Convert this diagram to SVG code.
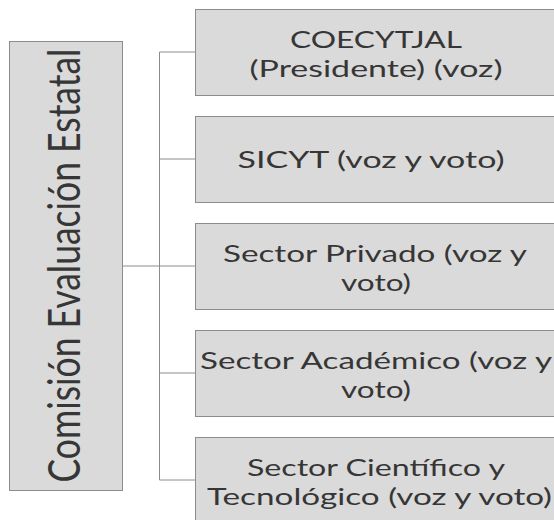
<svg xmlns="http://www.w3.org/2000/svg" width="554" height="520" viewBox="0 0 554 520">
<style>
.box{fill:#dadada;stroke:#8c8c8c;stroke-width:1}
.t{font-family:Lato,"Open Sans",sans-serif;font-size:24px;fill:#363636;text-anchor:middle}
.big{font-family:Lato,"Open Sans",sans-serif;font-size:35.5px;fill:#363636;text-anchor:middle}
.c{stroke:#8c8c8c;stroke-width:1;fill:none}
</style>
<rect width="554" height="520" fill="#fff"/>
<g id="connectors">
<path class="c" d="M159.5 52V480M159.5 52H195M159.5 159H195M123 266H195M159.5 373H195M159.5 480H195"/>
</g>
<g id="comision">
<rect class="box" x="9.5" y="41.5" width="113" height="449"/>
<text class="big" transform="translate(80 265.5) rotate(-90) scale(1 1.24)">Comisión Evaluación Estatal</text>
</g>
<g id="coecytjal">
<rect class="box" x="195.5" y="9.5" width="362" height="86"/>
<text class="t" x="376" y="48" textLength="172" lengthAdjust="spacingAndGlyphs">COECYTJAL</text>
<text class="t" x="376" y="77" textLength="253" lengthAdjust="spacingAndGlyphs">(Presidente) (voz)</text>
</g>
<g id="sicyt">
<rect class="box" x="195.5" y="116.5" width="362" height="86"/>
<text class="t" x="371" y="168" textLength="267" lengthAdjust="spacingAndGlyphs">SICYT (voz y voto)</text>
</g>
<g id="privado">
<rect class="box" x="195.5" y="223.5" width="362" height="86"/>
<text class="t" x="375" y="262" textLength="304" lengthAdjust="spacingAndGlyphs">Sector Privado (voz y</text>
<text class="t" x="376" y="291" textLength="70" lengthAdjust="spacingAndGlyphs">voto)</text>
</g>
<g id="academico">
<rect class="box" x="195.5" y="330.5" width="362" height="86"/>
<text class="t" x="376" y="369" textLength="352" lengthAdjust="spacingAndGlyphs">Sector Académico (voz y</text>
<text class="t" x="376" y="398" textLength="70" lengthAdjust="spacingAndGlyphs">voto)</text>
</g>
<g id="cientifico">
<rect class="box" x="195.5" y="437.5" width="362" height="86"/>
<text class="t" x="376" y="476" textLength="258" lengthAdjust="spacingAndGlyphs">Sector Científico y</text>
<text class="t" x="379.5" y="505" textLength="345" lengthAdjust="spacingAndGlyphs">Tecnológico (voz y voto)</text>
</g>
</svg>
